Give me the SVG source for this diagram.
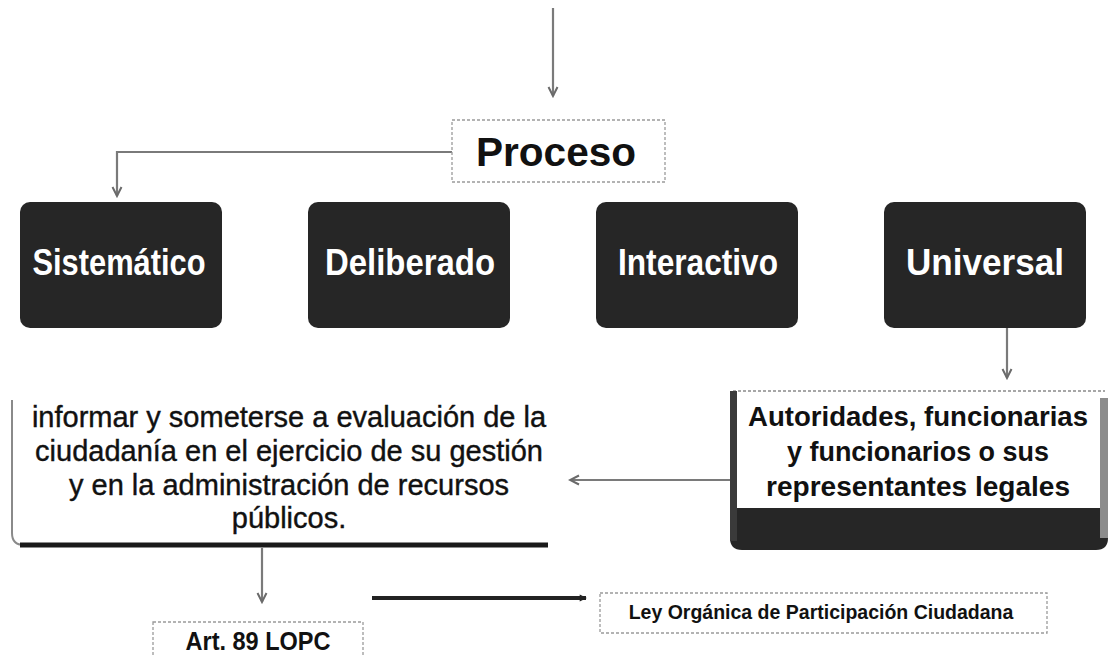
<svg xmlns="http://www.w3.org/2000/svg" width="1115" height="657" viewBox="0 0 1115 657">
<defs>
<style>
.dark{fill:#262626}
.lbl{font-family:"Liberation Sans",Arial,sans-serif;font-weight:bold;font-size:36px;fill:#ffffff;text-anchor:middle}
.body{font-family:"Liberation Sans",Arial,sans-serif;font-size:29px;fill:#111;text-anchor:middle;stroke:#111;stroke-width:0.4}
.bodyb{font-family:"Liberation Sans",Arial,sans-serif;font-weight:bold;font-size:28px;fill:#111;text-anchor:middle}
.dotbox{fill:#fff;stroke:#9a9a9a;stroke-width:1.3;stroke-dasharray:3 2}
.conn{fill:none;stroke:#7a7a7a;stroke-width:2.2}
.thick{fill:none;stroke:#222;stroke-width:4}
</style>
<marker id="ah" viewBox="0 0 12 12" refX="10" refY="6" markerWidth="12" markerHeight="12" markerUnits="userSpaceOnUse" orient="auto">
<path d="M1,1.5 L10,6 L1,10.5" fill="none" stroke="#6a6a6a" stroke-width="2"/>
</marker>
<marker id="ahb" viewBox="0 0 10 10" refX="8" refY="5" markerWidth="9" markerHeight="9" markerUnits="userSpaceOnUse" orient="auto">
<path d="M1,1 L9,5 L1,9 Z" fill="#222"/>
</marker>
</defs>
<rect width="1115" height="657" fill="#ffffff"/>

<g id="connectors">
<line class="conn" x1="553" y1="8" x2="553" y2="96" marker-end="url(#ah)"/>
<polyline class="conn" points="452,152 117,152 117,196" marker-end="url(#ah)"/>
<line class="conn" x1="1007" y1="328" x2="1007" y2="378" marker-end="url(#ah)"/>
<line class="conn" x1="730" y1="480" x2="570" y2="480" marker-end="url(#ah)"/>
<line class="conn" x1="262" y1="548" x2="262" y2="602" marker-end="url(#ah)"/>
<line class="thick" x1="372" y1="598" x2="586" y2="598" marker-end="url(#ahb)"/>
</g>

<g id="proceso">
<rect class="dotbox" x="452" y="120" width="213" height="62"/>
<text x="556" y="166" font-family="Liberation Sans, Arial, sans-serif" font-weight="bold" font-size="41" fill="#111" text-anchor="middle" textLength="160" lengthAdjust="spacingAndGlyphs">Proceso</text>
</g>

<g id="sistematico">
<rect class="dark" x="20" y="202" width="202" height="126" rx="10"/>
<text class="lbl" x="119" y="275" textLength="173" lengthAdjust="spacingAndGlyphs">Sistemático</text>
</g>
<g id="deliberado">
<rect class="dark" x="308" y="202" width="202" height="126" rx="10"/>
<text class="lbl" x="410" y="275" textLength="170" lengthAdjust="spacingAndGlyphs">Deliberado</text>
</g>
<g id="interactivo">
<rect class="dark" x="596" y="202" width="202" height="126" rx="10"/>
<text class="lbl" x="698" y="275" textLength="160" lengthAdjust="spacingAndGlyphs">Interactivo</text>
</g>
<g id="universal">
<rect class="dark" x="884" y="202" width="202" height="126" rx="10"/>
<text class="lbl" x="985" y="275" textLength="158" lengthAdjust="spacingAndGlyphs">Universal</text>
</g>

<g id="informar">
<path d="M12,400 V533 Q12,545 24,545" fill="none" stroke="#8a8a8a" stroke-width="2"/>
<line x1="20" y1="545" x2="548" y2="545" stroke="#1a1a1a" stroke-width="5"/>
<text class="body" x="289" y="427">informar y someterse a evaluación de la</text>
<text class="body" x="289" y="461">ciudadanía en el ejercicio de su gestión</text>
<text class="body" x="289" y="495">y en la administración de recursos</text>
<text class="body" x="289" y="528">públicos.</text>
</g>

<g id="autoridades">
<line x1="733" y1="391" x2="1105" y2="391" stroke="#8a8a8a" stroke-width="1.5" stroke-dasharray="3 2"/>
<path d="M730,508 H1108 V538 Q1108,550 1096,550 H742 Q730,550 730,538 Z" class="dark"/>
<rect x="730" y="391" width="7" height="150" fill="#3a3a3a"/>
<rect x="1100" y="398" width="8" height="140" fill="#8c8c8c"/>
<text class="bodyb" x="918" y="426" font-size="30" textLength="340" lengthAdjust="spacingAndGlyphs">Autoridades, funcionarias</text>
<text class="bodyb" x="918" y="461" font-size="30" textLength="262" lengthAdjust="spacingAndGlyphs">y funcionarios o sus</text>
<text class="bodyb" x="918" y="496" font-size="30" textLength="304" lengthAdjust="spacingAndGlyphs">representantes legales</text>
</g>

<g id="art89">
<rect class="dotbox" x="153" y="622" width="210" height="44"/>
<text x="258" y="650" font-family="Liberation Sans, Arial, sans-serif" font-weight="bold" font-size="25" fill="#111" text-anchor="middle" textLength="145" lengthAdjust="spacingAndGlyphs">Art. 89 LOPC</text>
</g>

<g id="ley">
<rect class="dotbox" x="600" y="593" width="447" height="40"/>
<text x="821" y="619" font-family="Liberation Sans, Arial, sans-serif" font-weight="bold" font-size="19.5" fill="#111" text-anchor="middle">Ley Orgánica de Participación Ciudadana</text>
</g>
</svg>
